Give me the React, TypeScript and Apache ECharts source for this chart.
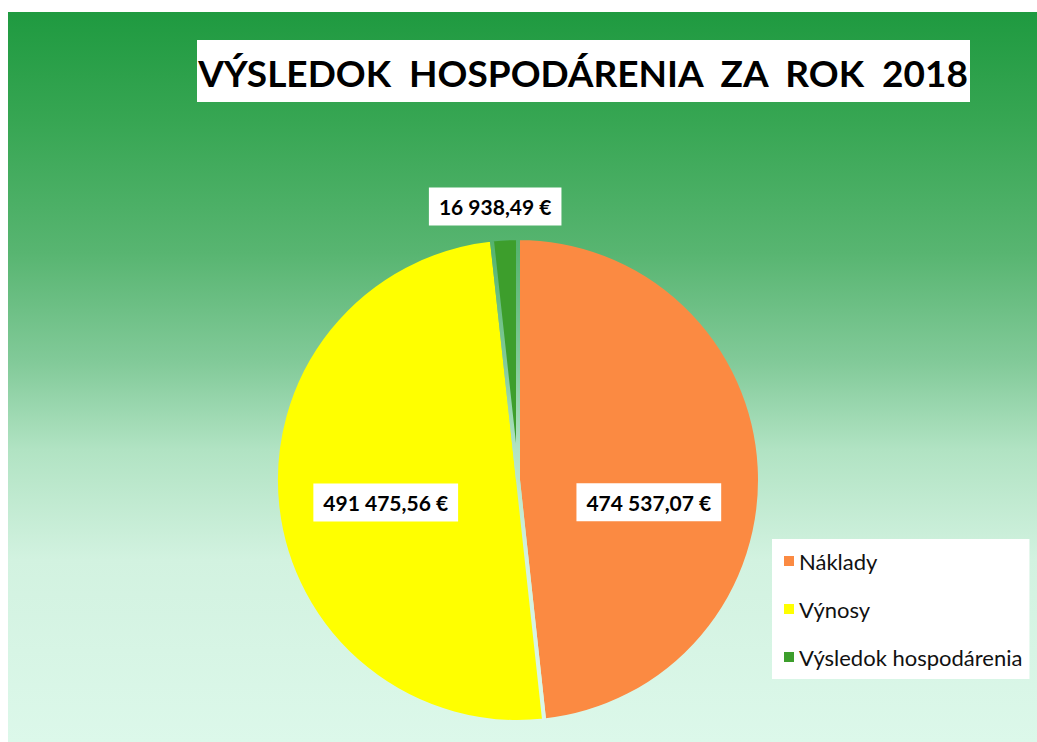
import React, { useEffect, useRef } from "react";
import * as echarts from "echarts";

const titleText = "VÝSLEDOK  HOSPODÁRENIA  ZA  ROK  2018";
const categories = ["Náklady", "Výnosy", "Výsledok hospodárenia"];
const values = [474537.07, 491475.56, 16938.49];
const colors = ["#fb8a42", "#ffff00", "#3d9e2c"];

const bgStops = [
  { offset: 0, color: "#1f9a40" },
  { offset: 0.15, color: "#37a653" },
  { offset: 0.33, color: "#58b571" },
  { offset: 0.48, color: "#82ca99" },
  { offset: 0.6, color: "#b1e3c3" },
  { offset: 0.75, color: "#d2f2e0" },
  { offset: 1, color: "#dcf8ea" },
];

function fmt(v: number): string {
  const [i, d] = v.toFixed(2).split(".");
  const withSpaces = i.replace(/\B(?=(\d{3})+(?!\d))/g, " ");
  return withSpaces + "," + d + " €";
}

export default function App() {
  const ref = useRef<HTMLDivElement>(null);
  useEffect(() => {
    if (!ref.current) return;
    const chart = echarts.init(ref.current, undefined, { renderer: "svg" });
    const bgTop = 12;
    const bgLeft = 8;
    const W = 1037;
    const H = 742;
    const globalGrad = new echarts.graphic.LinearGradient(0, bgTop, 0, H, bgStops, true);
    const labelBase = {
      show: true,
      position: "inside",
      formatter: (p: any) => fmt(p.value),
      color: "#000",
      fontFamily: "Lato, 'Open Sans', sans-serif",
      fontWeight: "bold",
      fontSize: 21,
      backgroundColor: "#ffffff",
      padding: [9, 10, 8, 10],
    };
    chart.setOption({
      animation: false,
      backgroundColor: "#ffffff",
      graphic: [
        {
          type: "rect",
          z: -10,
          silent: true,
          shape: { x: bgLeft, y: bgTop, width: W - bgLeft, height: H - bgTop },
          style: { fill: new echarts.graphic.LinearGradient(0, 0, 0, 1, bgStops) },
        },
        {
          type: "rect",
          silent: true,
          shape: { x: 197, y: 40, width: 773, height: 62 },
          style: { fill: "#ffffff" },
        },
        {
          type: "text",
          silent: true,
          x: 583,
          y: 72,
          style: {
            text: titleText,
            fill: "#000",
            font: "bold 37px Lato, 'Open Sans', sans-serif",
            align: "center",
            verticalAlign: "middle",
          },
        },
      ],
      legend: {
        orient: "vertical",
        left: 772,
        top: 539,
        backgroundColor: "#ffffff",
        padding: [11, 7, 11, 12],
        itemWidth: 10,
        itemHeight: 10,
        itemGap: 26,
        icon: "rect",
        data: categories,
        itemStyle: { borderWidth: 0 },
        textStyle: {
          fontFamily: "Lato, 'Open Sans', sans-serif",
          fontSize: 22,
          color: "#111",
          lineHeight: 20,
          padding: [0, 0, 0, 0],
        },
      },
      series: [
        {
          type: "pie",
          center: [518, 480],
          radius: 242,
          startAngle: 90,
          clockwise: true,
          itemStyle: { borderColor: globalGrad, borderWidth: 4 },
          labelLine: { show: false, length: 32, length2: 0 },
          label: labelBase,
          labelLayout: (p: any) => {
            if (p.dataIndex === 0) return { dx: 7, dy: 29 };
            if (p.dataIndex === 1) return { dx: -9, dy: 9 };
            return { align: "center", dx: -8 };
          },
          data: categories.map((c, i) => ({
            name: c,
            value: values[i],
            itemStyle: { color: colors[i] },
            label: i === 2 ? { position: "outside", distanceToLabelLine: 0 } : undefined,
          })),
        },
      ],
    });
    return () => chart.dispose();
  }, []);
  return (
    <div
      ref={ref}
      style={{ position: "absolute", left: 0, top: 0, width: 1037, height: 742 }}
    />
  );
}
